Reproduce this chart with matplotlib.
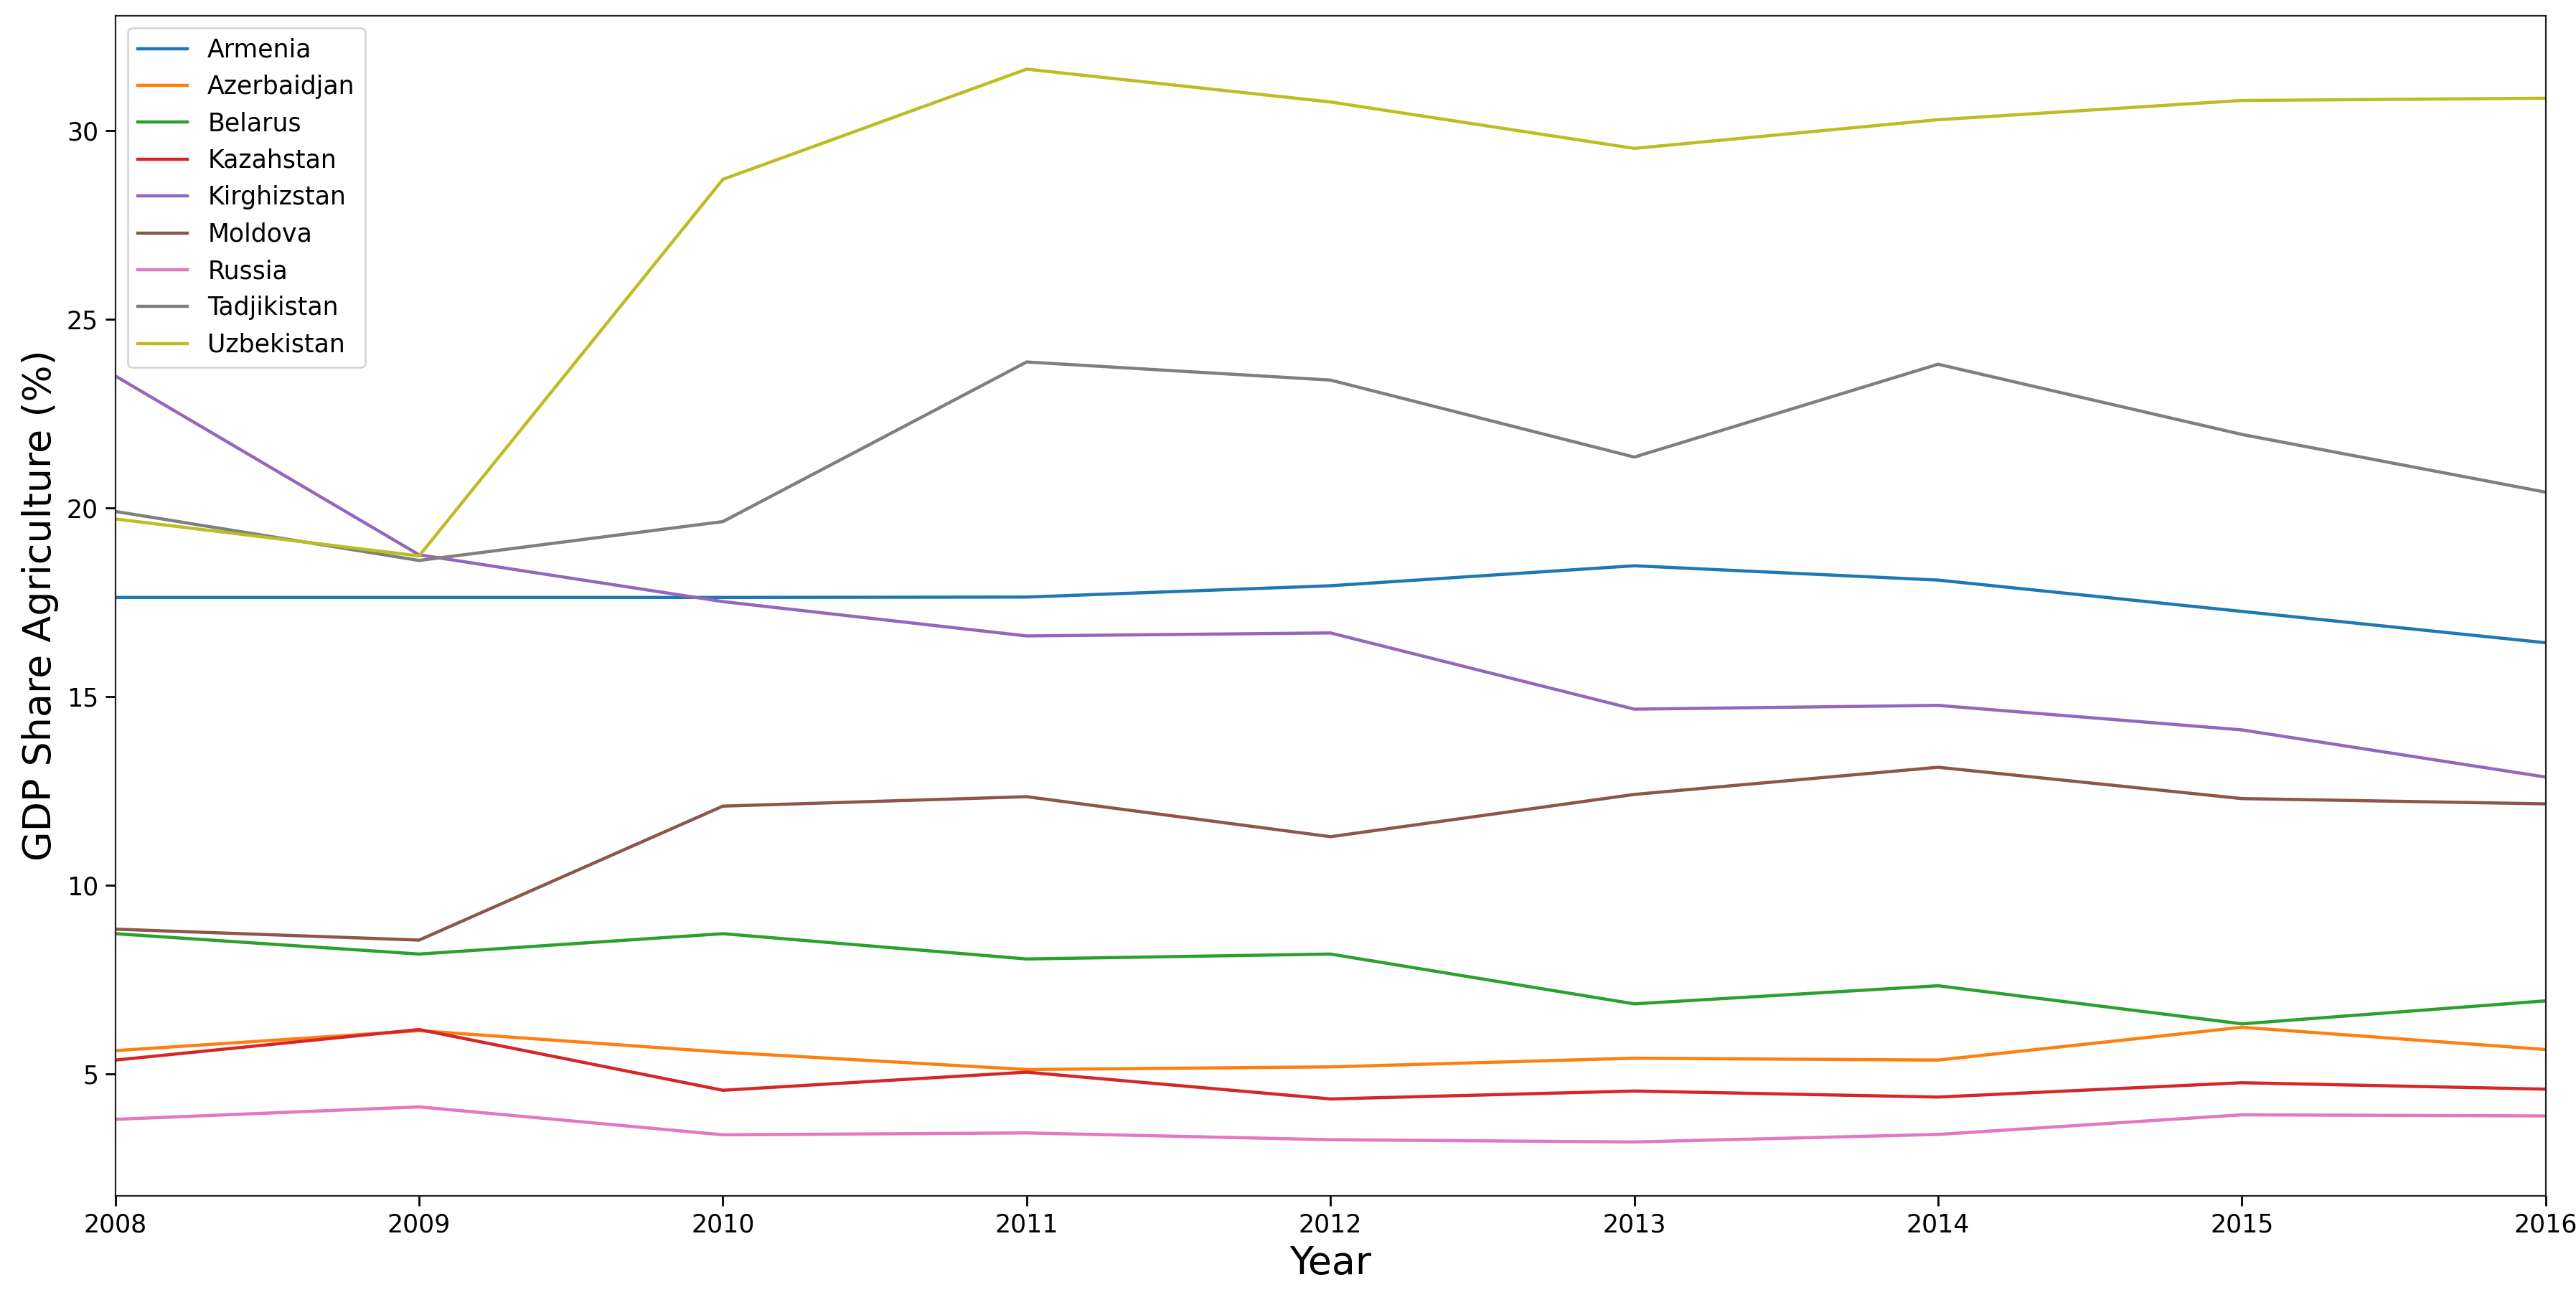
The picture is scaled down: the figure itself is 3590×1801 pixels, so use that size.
import numpy as np
import matplotlib
matplotlib.use("Agg")
import matplotlib.pyplot as plt

years = [2008, 2009, 2010, 2011, 2012, 2013, 2014, 2015, 2016]

armenia = [17.63, 17.63, 17.63, 17.64, 17.94, 18.47, 18.09, 17.26, 16.43]
azerbaidjan = [5.62, 6.15, 5.58, 5.12, 5.19, 5.42, 5.37, 6.24, 5.65]
belarus = [8.72, 8.18, 8.72, 8.05, 8.18, 6.86, 7.34, 6.33, 6.94]
kazahstan = [5.37, 6.18, 4.57, 5.05, 4.34, 4.55, 4.39, 4.77, 4.60]
kirghizstan = [23.5, 18.76, 17.52, 16.61, 16.69, 14.67, 14.77, 14.12, 12.87]
moldova = [8.84, 8.55, 12.10, 12.35, 11.29, 12.41, 13.13, 12.30, 12.16]
russia = [3.80, 4.13, 3.39, 3.44, 3.26, 3.20, 3.40, 3.92, 3.89]
tadjikistan = [19.91, 18.61, 19.64, 23.87, 23.39, 21.35, 23.81, 21.95, 20.42]
uzbekistan = [19.71, 18.73, 28.71, 31.63, 30.76, 29.53, 30.29, 30.80, 30.86]

countries = ['Armenia', 'Azerbaidjan', 'Belarus', 'Kazahstan', 'Kirghizstan',
             'Moldova', 'Russia', 'Tadjikistan', 'Uzbekistan']
series = [armenia, azerbaidjan, belarus, kazahstan, kirghizstan,
          moldova, russia, tadjikistan, uzbekistan]

fig = plt.figure(figsize=(17.955, 9.005), dpi=200)
ax = fig.add_axes([0.04475, 0.0746, 0.9432, 0.9134])

for name, vals in zip(countries, series):
    ax.plot(years, vals, label=name, linewidth=1.6)

ax.set_xlim(2008, 2016)
ax.set_xticks(years)
ax.set_yticks([5, 10, 15, 20, 25, 30])
ax.tick_params(labelsize=12.5, length=5, width=1)
ax.set_xlabel('Year', fontsize=19.4)
ax.set_ylabel('GDP Share Agriculture (%)', fontsize=19.4)
for s in ax.spines.values():
    s.set_color('#222222')
ax.legend(loc='upper left', fontsize=12.5)

fig.savefig('out.png', dpi=200)
